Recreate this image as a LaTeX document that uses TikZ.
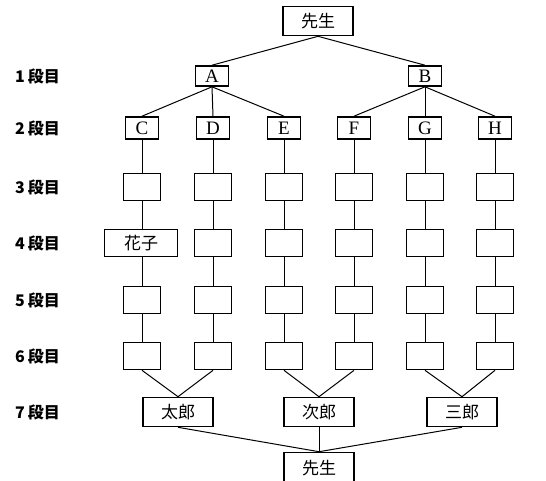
\documentclass[tikz,border=0pt]{standalone}
\usepackage{fontspec}
\setmainfont{Liberation Serif}
\newfontfamily\jp{Noto Sans CJK JP}
\begin{document}
\begin{tikzpicture}[x=1pt,y=-1pt,
  bx/.style={draw, line width=1.6pt, inner sep=0pt, minimum width=37pt, minimum height=27pt},
  letbox/.style={bx, minimum width=33pt, minimum height=22pt, font=\fontsize{19}{19}\selectfont},
  namebox/.style={bx, minimum width=70pt, minimum height=29pt, font=\jp\fontsize{17}{17}\selectfont},
  lab/.style={anchor=west, inner sep=0pt, font=\jp\bfseries\fontsize{16}{16}\selectfont},
  conn/.style={line width=1pt}]
\useasboundingbox (0,0) rectangle (546,480);
% top
\node[namebox] (t) at (318,21) {先生};
\node[letbox, minimum height=20pt] (A) at (212,76) {A};
\node[letbox, minimum height=20pt] (B) at (425,76) {B};
% row 2
\foreach \n/\x in {C/142,D/213,E/284,F/354,G/425,H/495}
  \node[letbox] (\n) at (\x,128) {\n};
% rows 3-6
\foreach \r/\y in {3/187,4/243,5/300,6/356}
  \foreach \c/\x in {1/142,2/213,3/284,4/354,5/425,6/495}
    \node[bx] (r\r c\c) at (\x,\y) {};
\node[namebox, minimum width=73pt, minimum height=27pt, fill=white] (hanako) at (141,243) {花子};
% row 7
\node[namebox] (taro) at (178,412) {太郎};
\node[namebox] (jiro) at (319,412) {次郎};
\node[namebox] (saburo) at (462,412) {三郎};
\node[namebox, minimum height=31pt] (b) at (319,468) {先生};
% labels
\foreach \k/\y in {1/76,2/128,3/187,4/243,5/300,6/356,7/412}
  \node[lab] (l\k) at (15,\y) {\k\hspace{3pt}段目};
% connectors
\draw[conn] (t.south) -- (A.north);
\draw[conn] (t.south) -- (B.north);
\foreach \n in {C,D,E} \draw[conn] (A.south) -- (\n.north);
\foreach \n in {F,G,H} \draw[conn] (B.south) -- (\n.north);
\foreach \n/\c in {C/1,D/2,E/3,F/4,G/5,H/6}
  \draw[conn] (\n.south) -- (r3c\c.north);
\foreach \c in {1,...,6}{
  \draw[conn] (r3c\c.south) -- (r4c\c.north);
  \draw[conn] (r4c\c.south) -- (r5c\c.north);
  \draw[conn] (r5c\c.south) -- (r6c\c.north);
}
\draw[conn] (r6c1.south) -- (taro.north);
\draw[conn] (r6c2.south) -- (taro.north);
\draw[conn] (r6c3.south) -- (jiro.north);
\draw[conn] (r6c4.south) -- (jiro.north);
\draw[conn] (r6c5.south) -- (saburo.north);
\draw[conn] (r6c6.south) -- (saburo.north);
\foreach \n in {taro,jiro,saburo} \draw[conn] (\n.south) -- (b.north);
\end{tikzpicture}
\end{document}
